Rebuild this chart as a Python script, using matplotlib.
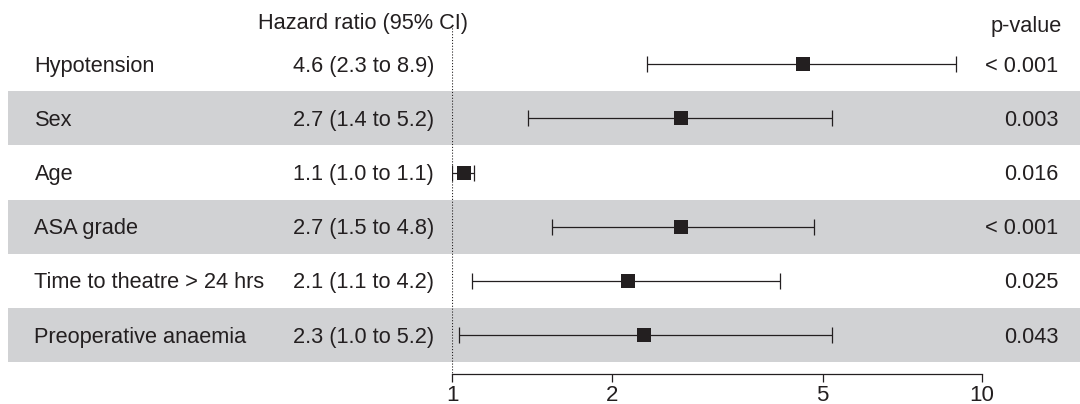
import matplotlib
matplotlib.use('Agg')
import matplotlib.pyplot as plt
from matplotlib import font_manager
from matplotlib.transforms import blended_transform_factory
from matplotlib.patches import Rectangle
import numpy as np

# data
factors = ['Hypotension', 'Sex', 'Age', 'ASA grade',
           'Time to theatre > 24 hrs', 'Preoperative anaemia']
hr_text = ['4.6 (2.3 to 8.9)', '2.7 (1.4 to 5.2)', '1.1 (1.0 to 1.1)',
           '2.7 (1.5 to 4.8)', '2.1 (1.1 to 4.2)', '2.3 (1.0 to 5.2)']
p_text = ['< 0.001', '0.003', '0.016', '< 0.001', '0.025', '0.043']
hr = np.array([4.6, 2.7, 1.05, 2.7, 2.15, 2.3])
ci_low = np.array([2.33, 1.39, 1.0, 1.54, 1.09, 1.03])
ci_high = np.array([8.95, 5.22, 1.10, 4.82, 4.15, 5.22])
xticks = [1, 2, 5, 10]

ink = '#231f20'
band = '#d1d2d4'
W, H = 1080, 404

plt.rcParams['font.family'] = ['Liberation Sans', 'DejaVu Sans']
names = {f.name for f in font_manager.fontManager.ttflist}
narrow = 'Liberation Sans Narrow' in names
tick_font = 'Liberation Sans Narrow' if narrow else 'Liberation Sans'
tick_fs = 18 if narrow else 16

fig = plt.figure(figsize=(W / 100, H / 100), dpi=100)
# plotting area: x = 1 at 452 px, x = 10 at 982 px, axis line at y = 374 px
ax = fig.add_axes([452.3 / W, (H - 373.7) / H, 529.7 / W, 373.7 / H])
ax.set_xscale('log')
ax.set_xlim(1, 10)
row_h = 54.15
row0 = 64.2
ax.set_ylim((373.7 - row0) / row_h, -row0 / row_h)
ax.patch.set_alpha(0)

rows = np.arange(len(factors))
tr = blended_transform_factory(fig.transFigure, ax.transData)

# alternating grey bands across the whole figure
for i in rows:
    if i % 2 == 1:
        ax.add_patch(Rectangle((8 / W, i - 0.5), 1 - 8 / W, 1.0,
                               transform=tr, facecolor=band,
                               edgecolor='none', zorder=0, clip_on=False))

ax.vlines(1, -0.72, ax.get_ylim()[0], colors=ink, linewidth=0.8,
          linestyles=(0, (1, 1.6)), zorder=2)

# CI whiskers with caps, then the square point estimates
ax.errorbar(hr, rows, xerr=[hr - ci_low, ci_high - hr], fmt='none',
            ecolor=ink, elinewidth=0.9, capsize=5.8, capthick=0.9,
            zorder=3)
ax.plot(hr, rows, 's', color=ink, markersize=9.4, markeredgewidth=0,
        zorder=4)

fs = 15.7
for i in rows:
    ax.text(34.5 / W, i + 0.14, factors[i], transform=tr, fontsize=fs,
            color=ink, ha='left', va='baseline')
    ax.text(434 / W, i + 0.14, hr_text[i], transform=tr, fontsize=fs,
            color=ink, ha='right', va='baseline')
    ax.text(1058.5 / W, i + 0.14, p_text[i], transform=tr, fontsize=fs,
            color=ink, ha='right', va='baseline')

ax.text(363.5 / W, -0.645, 'Hazard ratio (95% CI)', transform=tr,
        fontsize=fs, color=ink, ha='center', va='baseline')
ax.text(1062 / W, -0.589, 'p-value', transform=tr, fontsize=fs,
        color=ink, ha='right', va='baseline')

for s in ['top', 'left', 'right']:
    ax.spines[s].set_visible(False)
ax.spines['bottom'].set_color(ink)
ax.spines['bottom'].set_linewidth(0.9)
ax.set_yticks([])
ax.set_xticks(xticks)
ax.set_xticklabels([str(t) for t in xticks], fontsize=tick_fs,
                   family=tick_font, color=ink)
ax.xaxis.set_minor_locator(matplotlib.ticker.NullLocator())
ax.tick_params(axis='x', direction='out', length=5.8, width=0.9,
               color=ink, pad=2.0)

fig.savefig('out.png', dpi=100)
